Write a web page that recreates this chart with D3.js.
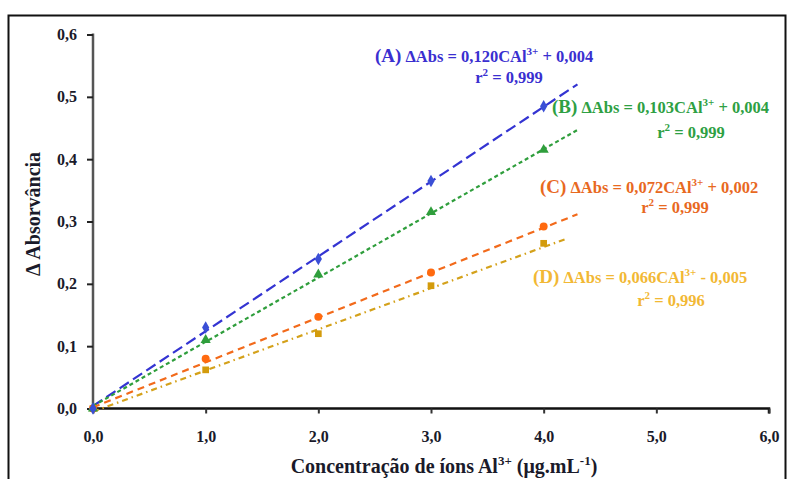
<!DOCTYPE html>
<html>
<head>
<meta charset="utf-8">
<script src="https://cdn.jsdelivr.net/npm/d3@7"></script>
<style>
  body { margin: 0; background: #fff; }
  svg text { font-family: "Liberation Serif", "Times New Roman", serif; font-weight: bold; }
</style>
</head>
<body>
<div id="chart"></div>
<script>
// concentration of Al3+ (ug/mL)
const conc = [0, 1, 2, 3, 4];
// delta absorbance for each series
const absA = [0, 0.130, 0.240, 0.365, 0.485];
const absB = [0, 0.110, 0.215, 0.315, 0.415];
const absC = [0, 0.080, 0.147, 0.218, 0.292];
const absD = [0, 0.062, 0.120, 0.197, 0.265];
// fitted lines: slope, intercept, r2, end of the drawn line
const fitSlope = [0.120, 0.103, 0.072, 0.066];
const fitIntercept = [0.004, 0.004, 0.002, -0.005];
const fitR2 = ['0,999', '0,999', '0,999', '0,996'];
const fitEnd = [4.3, 4.3, 4.3, 4.2];
const seriesNames = ['A', 'B', 'C', 'D'];
const xTicks = [0, 1, 2, 3, 4, 5, 6];
const yTicks = [0, 0.1, 0.2, 0.3, 0.4, 0.5, 0.6];

const width = 792;
const height = 479;

const styles = [
  { line: '#3434d2', mark: '#3a4fd6', text: '#3a2fd0', dash: '11,5', shape: d3.symbolDiamond, size: 45 },
  { line: '#2f9e3c', mark: '#2f9e3c', text: '#2ea043', dash: '4,3', shape: d3.symbolTriangle, size: 45 },
  { line: '#f26a1b', mark: '#ff6a10', text: '#e8691f', dash: '7,5', shape: d3.symbolCircle, size: 50 },
  { line: '#d4a11a', mark: '#d39b0c', text: '#f2b834', dash: '6,4,1.5,4', shape: d3.symbolSquare, size: 45 }
];

const series = [absA, absB, absC, absD].map((vals, i) => ({
  name: seriesNames[i],
  points: conc.map((c, j) => ({ x: c, y: vals[j] })),
  slope: fitSlope[i],
  intercept: fitIntercept[i],
  r2: fitR2[i],
  end: fitEnd[i],
  style: styles[i]
}));

const fmt = (d) => d3.format('.1f')(d).replace('.', ',');

const svg = d3.select('#chart').append('svg')
  .attr('width', width)
  .attr('height', height);

// outer frame
svg.append('rect')
  .attr('x', 8.5).attr('y', 15.5)
  .attr('width', 777).attr('height', 480)
  .attr('fill', 'none')
  .attr('stroke', '#111')
  .attr('stroke-width', 2);

const xScale = d3.scaleLinear().domain([0, 6]).range([93, 769]);
const yScale = d3.scaleLinear().domain([0, 0.6]).range([408.5, 34.5]);

// y axis
const yAxis = svg.append('g')
  .attr('transform', `translate(${xScale(0)},0)`)
  .call(d3.axisLeft(yScale).tickValues(yTicks).tickFormat(fmt).tickSize(6).tickPadding(10));
yAxis.select('.domain').attr('stroke', '#555').attr('stroke-width', 2.5).attr('d', `M0,${yScale(0.6) - 1}V${yScale(0)}`);
yAxis.selectAll('.tick line').attr('stroke', '#222').attr('stroke-width', 2);
yAxis.selectAll('.tick text')
  .attr('fill', '#1a1a2a')
  .style('font-size', '16px')
  .style('font-family', '"Liberation Serif", serif')
  .style('font-weight', 'bold');

// x axis
const xAxis = svg.append('g')
  .attr('transform', `translate(0,${yScale(0)})`)
  .call(d3.axisBottom(xScale).tickValues(xTicks).tickFormat(fmt).tickSize(5).tickPadding(17));
xAxis.select('.domain').attr('stroke', '#111').attr('stroke-width', 2.5).attr('d', `M${xScale(0)},0H${xScale(6)}V5`);
xAxis.selectAll('.tick line').attr('stroke', '#333').attr('stroke-width', 2);
xAxis.selectAll('.tick text')
  .attr('fill', '#1a1a2a')
  .style('font-size', '16px')
  .style('font-family', '"Liberation Serif", serif')
  .style('font-weight', 'bold');

// fitted lines
svg.append('g').selectAll('line')
  .data(series)
  .join('line')
  .attr('x1', (d) => xScale(0))
  .attr('y1', (d) => yScale(d.intercept))
  .attr('x2', (d) => xScale(d.end))
  .attr('y2', (d) => yScale(d.slope * d.end + d.intercept))
  .attr('stroke', (d) => d.style.line)
  .attr('stroke-width', 2.2)
  .attr('stroke-dasharray', (d) => d.style.dash);

// markers (drawn from last to first so blue ends on top)
svg.append('g').selectAll('g')
  .data(series.slice().reverse())
  .join('g')
  .each(function (s) {
    d3.select(this).selectAll('path')
      .data(s.points)
      .join('path')
      .attr('transform', (d) => `translate(${xScale(d.x)},${yScale(d.y)})`)
      .attr('d', d3.symbol().type(s.style.shape).size(s.style.size))
      .attr('fill', s.style.mark);
  });

// equation labels
const labelPos = [
  { x: 375, y: 62, rx: 509, ry: 83 },
  { x: 552, y: 113, rx: 691, ry: 138 },
  { x: 540, y: 193, rx: 675, ry: 213 },
  { x: 533, y: 283, rx: 671, ry: 306 }
];
const labels = svg.append('g');
series.forEach((s, i) => {
  const p = labelPos[i];
  const t = labels.append('text')
    .attr('x', p.x).attr('y', p.y)
    .attr('fill', s.style.text)
    .style('font-size', '16.5px');
  t.append('tspan').style('font-size', '19px').text(`(${s.name})`);
  const sign = s.intercept < 0 ? ' - ' : ' + ';
  t.append('tspan').text(` \u0394Abs = ${fmt3(s.slope)}CAl`);
  t.append('tspan').attr('dy', -7).style('font-size', '11px').text('3+');
  t.append('tspan').attr('dy', 7).text(`${sign}${fmt3(Math.abs(s.intercept))}`);

  const r = labels.append('text')
    .attr('x', p.rx).attr('y', p.ry)
    .attr('text-anchor', 'middle')
    .attr('fill', s.style.text)
    .style('font-size', '16.5px');
  r.append('tspan').text('r');
  r.append('tspan').attr('dy', -7).style('font-size', '11px').text('2');
  r.append('tspan').attr('dy', 7).text(` = ${s.r2}`);
});

function fmt3(v) {
  return d3.format('.3f')(v).replace('.', ',');
}

// axis titles
svg.append('text')
  .attr('transform', `translate(40,${214}) rotate(-90)`)
  .attr('text-anchor', 'middle')
  .attr('fill', '#1a1a2a')
  .style('font-size', '20px')
  .text('\u0394 Absorvância');

const xt = svg.append('text')
  .attr('x', 444).attr('y', 473)
  .attr('text-anchor', 'middle')
  .attr('fill', '#1a1a2a')
  .style('font-size', '20px');
xt.append('tspan').text('Concentração de íons Al');
xt.append('tspan').attr('dy', -8).style('font-size', '13px').text('3+');
xt.append('tspan').attr('dy', 8).text(' (μg.mL');
xt.append('tspan').attr('dy', -8).style('font-size', '13px').text('-1');
xt.append('tspan').attr('dy', 8).text(')');
</script>
</body>
</html>
